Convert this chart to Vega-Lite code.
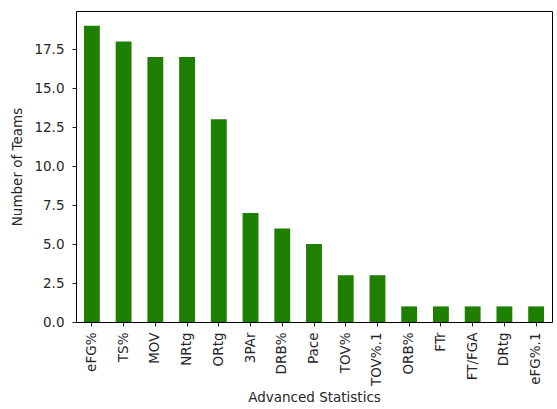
{
  "$schema": "https://vega.github.io/schema/vega-lite/v6.json",
  "autosize": {"type": "none"},
  "width": 476,
  "height": 311,
  "padding": {"left": 76, "top": 11, "right": 5, "bottom": 87},
  "background": "white",
  "config": {
    "font": "DejaVu Sans",
    "view": {"stroke": "#000000", "strokeWidth": 1}
  },
  "data": {
    "values": [
      {"stat": "eFG%", "teams": 19},
      {"stat": "TS%", "teams": 18},
      {"stat": "MOV", "teams": 17},
      {"stat": "NRtg", "teams": 17},
      {"stat": "ORtg", "teams": 13},
      {"stat": "3PAr", "teams": 7},
      {"stat": "DRB%", "teams": 6},
      {"stat": "Pace", "teams": 5},
      {"stat": "TOV%", "teams": 3},
      {"stat": "TOV%.1", "teams": 3},
      {"stat": "ORB%", "teams": 1},
      {"stat": "FTr", "teams": 1},
      {"stat": "FT/FGA", "teams": 1},
      {"stat": "DRtg", "teams": 1},
      {"stat": "eFG%.1", "teams": 1}
    ]
  },
  "mark": {"type": "bar", "color": "#1f7f00"},
  "encoding": {
    "x": {
      "field": "stat",
      "type": "nominal",
      "sort": null,
      "scale": {"paddingInner": 0.5, "paddingOuter": 0.25},
      "axis": {
        "title": "Advanced Statistics",
        "titleFont": "DejaVu Sans",
        "titleFontSize": 13.5,
        "titleFontWeight": "normal",
        "titleColor": "#262626",
        "titlePadding": 5,
        "labelAngle": -90,
        "labelFontSize": 13.5,
        "labelColor": "#262626",
        "labelPadding": 6,
        "tickColor": "#222222",
        "tickSize": 4,
        "domain": false,
        "grid": false
      }
    },
    "y": {
      "field": "teams",
      "type": "quantitative",
      "scale": {"domain": [0, 19.95], "nice": false},
      "axis": {
        "title": "Number of Teams",
        "titleFontSize": 13.5,
        "titleFontWeight": "normal",
        "titleColor": "#262626",
        "titlePadding": 9,
        "values": [0, 2.5, 5, 7.5, 10, 12.5, 15, 17.5],
        "format": ".1f",
        "labelFontSize": 13.5,
        "labelColor": "#262626",
        "labelPadding": 8,
        "tickColor": "#222222",
        "tickSize": 4,
        "domain": false,
        "grid": false
      }
    }
  }
}
